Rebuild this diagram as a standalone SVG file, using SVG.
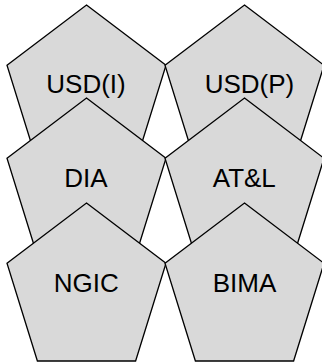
<svg xmlns="http://www.w3.org/2000/svg" width="322" height="362" viewBox="0 0 322 362">
<style>
.p{fill:#d9d9d9;stroke:#000;stroke-width:1.3;stroke-linejoin:miter}
.t{font-family:"Liberation Sans",Arial,sans-serif;font-size:26px;fill:#000;text-anchor:middle}
</style>
<defs>
<polygon id="pent" points="79.5,0 159,60.3 128.6,158 30.4,158 0,60.3"/>
</defs>
<g id="connectors"/>
<g id="usd-i"><use href="#pent" class="p" x="7" y="5"/><text class="t" x="86" y="93.3">USD(I)</text></g>
<g id="usd-p"><use href="#pent" class="p" x="165" y="5"/><text class="t" x="249.5" y="93.3">USD(P)</text></g>
<g id="dia"><use href="#pent" class="p" x="7" y="98"/><text class="t" x="86" y="187">DIA</text></g>
<g id="atl"><use href="#pent" class="p" x="165" y="98"/><text class="t" x="244.3" y="187">AT&amp;L</text></g>
<g id="ngic"><use href="#pent" class="p" x="7" y="203"/><text class="t" x="86.3" y="292.3">NGIC</text></g>
<g id="bima"><use href="#pent" class="p" x="165" y="203"/><text class="t" x="244.5" y="292.3">BIMA</text></g>
</svg>
